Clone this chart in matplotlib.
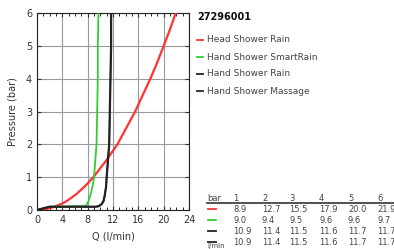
import matplotlib
matplotlib.use("Agg")
import matplotlib.pyplot as plt
from matplotlib.ticker import MultipleLocator

# Curves (Q in l/min, P in bar)
red_q = [0.0, 1.5, 2.8, 3.9, 4.5, 5.5, 6.3, 7.7, 8.9, 10.9, 12.7, 14.1,
         15.5, 16.7, 17.9, 19.0, 20.0, 21.0, 21.9]
red_p = [0.0, 0.03, 0.1, 0.19, 0.25, 0.38, 0.5, 0.75, 1.0, 1.5, 2.0, 2.5,
         3.0, 3.5, 4.0, 4.5, 5.0, 5.5, 6.0]

green_q = [0.0, 2.0, 7.7, 7.9, 8.2, 8.5, 8.8, 9.0, 9.2, 9.4, 9.5, 9.6, 9.6, 9.7]
green_p = [0.0, 0.1, 0.12, 0.18, 0.3, 0.5, 0.75, 1.0, 1.5, 2.0, 3.0, 4.0, 5.0, 6.0]

black_q = [0.0, 2.0, 9.3, 9.8, 10.2, 10.5, 10.7, 10.9, 11.0, 11.4, 11.5, 11.6, 11.7, 11.7]
black_p = [0.0, 0.1, 0.1, 0.12, 0.18, 0.27, 0.45, 0.7, 1.0, 2.0, 3.0, 4.0, 5.0, 6.0]

series_names = ["Head Shower Rain", "Hand Shower SmartRain",
                "Hand Shower Rain", "Hand Shower Massage"]
series_colors = ["#ff3333", "#33cc33", "#222222", "#222222"]
title = "27296001"

table_header = ["bar", "1", "2", "3", "4", "5", "6"]
table_rows = [
    ["8.9", "12.7", "15.5", "17.9", "20.0", "21.9"],
    ["9.0", "9.4", "9.5", "9.6", "9.6", "9.7"],
    ["10.9", "11.4", "11.5", "11.6", "11.7", "11.7"],
    ["10.9", "11.4", "11.5", "11.6", "11.7", "11.7"],
]

W, H = 394, 249
fig = plt.figure(figsize=(W / 100, H / 100), dpi=100)
L, R, T, B = 37, 189, 13, 210
ax = fig.add_axes([L / W, 1 - B / H, (R - L) / W, (B - T) / H])

ax.plot(red_q, red_p, color=series_colors[0], lw=1.6, zorder=3)
ax.plot(green_q, green_p, color=series_colors[1], lw=1.3, zorder=3)
ax.plot(black_q, black_p, color=series_colors[2], lw=1.6, zorder=4)
ax.plot(black_q, black_p, color=series_colors[3], lw=1.0, zorder=4)

ax.set_xlim(0, 24)
ax.set_ylim(0, 6)
ax.xaxis.set_major_locator(MultipleLocator(4))
ax.yaxis.set_major_locator(MultipleLocator(1))
ax.xaxis.set_minor_locator(MultipleLocator(1))
ax.grid(True, which="major", color="#999999", lw=0.8)
ax.set_axisbelow(True)
ax.tick_params(which="major", direction="in", length=3, width=0.8,
               labelsize=7, top=True, right=True, colors="#333333", labelcolor="#333333")
ax.tick_params(which="minor", direction="in", length=2, width=0.6, top=True, bottom=True)
for s in ax.spines.values():
    s.set_linewidth(0.8)
    s.set_color("#222222")
ax.set_xlabel("Q (l/min)", fontsize=7, color="#333333", labelpad=5)
ax.set_ylabel("Pressure (bar)", fontsize=7, color="#333333", labelpad=6)

def fx(px):
    return px / W

def fy(py):
    return 1 - py / H

# Legend
fig.text(fx(197), fy(17), title, fontsize=7, fontweight="bold", color="#111111", va="center")
for i, (name, col) in enumerate(zip(series_names, series_colors)):
    y = 40 + i * 17
    fig.add_artist(plt.Line2D([fx(197), fx(203)], [fy(y), fy(y)], color=col, lw=1.3))
    fig.text(fx(207), fy(y), name, fontsize=6.5, color="#444444", va="center")

# Table
col_x = [207, 233, 262, 289, 319, 348, 377]
for x, h in zip(col_x, table_header):
    fig.text(fx(x), fy(198), h, fontsize=6, color="#444444", va="center")
fig.add_artist(plt.Line2D([fx(207), fx(394)], [fy(203), fy(203)], color="#333333", lw=1.2))
for r, row in enumerate(table_rows):
    y = 209 + r * 11
    fig.add_artist(plt.Line2D([fx(208), fx(216)], [fy(y), fy(y)], color=series_colors[r], lw=1.3))
    for x, v in zip(col_x[1:], row):
        fig.text(fx(x), fy(y), v, fontsize=6, color="#444444", va="center")
fig.text(fx(207), fy(249), "l/min", fontsize=5, color="#444444", va="bottom")

fig.savefig("out.png", dpi=100)
